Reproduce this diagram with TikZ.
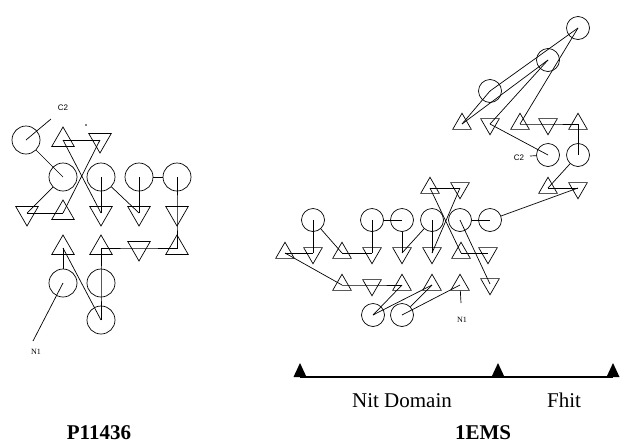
\documentclass[tikz,border=0pt]{standalone}
\usepackage{fontspec}
\setmainfont{Liberation Serif}
\newfontfamily\tagfont{Liberation Sans}
\usetikzlibrary{shapes.geometric}

\begin{document}
\begin{tikzpicture}[x=1pt,y=-1pt,line width=0.7pt,
        helix/.style={circle,draw,inner sep=0pt,minimum size=#1},
        helix/.default=28,
        upstrand/.style={regular polygon,regular polygon sides=3,draw,inner sep=0pt,minimum size=#1},
        upstrand/.default=26,
        downstrand/.style={upstrand=#1,shape border rotate=180},
        downstrand/.default=26,
        tag/.style={font=\tagfont\fontsize{8}{9}\selectfont,inner sep=0pt},
        termtext/.style={font=\fontsize{8}{9}\selectfont,inner sep=0pt},
        domaintext/.style={font=\fontsize{21}{24}\selectfont,anchor=base,inner sep=0pt},
        heading/.style={font=\bfseries\fontsize{21}{24}\selectfont,anchor=base,inner sep=0pt}]
    \useasboundingbox (0,0) rectangle (621,445);

    % P11436
    \node[helix] (pc0) at (26,140) {};
    \node[upstrand] (pu1) at (63,140) {};
    \node[downstrand] (pd1) at (100,140) {};
    \node[helix] (pc1) at (63,177) {};
    \node[helix] (pc2) at (101,177) {};
    \node[helix] (pc3) at (139,177) {};
    \node[helix] (pc4) at (177,177) {};
    \node[downstrand] (pd2) at (27,213) {};
    \node[upstrand] (pu2) at (63,213) {};
    \node[downstrand] (pd3) at (101,213) {};
    \node[downstrand] (pd4) at (139,213) {};
    \node[downstrand] (pd5) at (177,213) {};
    \node[upstrand] (pu3) at (63,248) {};
    \node[upstrand] (pu4) at (101,248) {};
    \node[downstrand] (pd6) at (139,248) {};
    \node[upstrand] (pu5) at (177,248) {};
    \node[helix] (pc5) at (63,283) {};
    \node[helix] (pc6) at (101,283) {};
    \node[helix] (pc7) at (101,320) {};
    \node[tag] (pC2) at (63,108) {C2};
    \coordinate (pC2end) at (51,119);
    \node[termtext] (pN1) at (36,352) {N1};
    \coordinate (pN1end) at (33,341);
    \fill (86,125) circle (0.8);

    \draw (pc0.center) -- (pC2end);
    \draw (pc0) -- (pc1.center);
    \draw (pu1.center) -- (pd1.center);
    \draw (pu1.center) -- (pd3.center);
    \draw (pu2.center) -- (pd1.center);
    \draw (pc1) -- (pd2.center);
    \draw (pd2.center) -- (pu2.center);
    \draw (pc2.center) -- (pd3.center);
    \draw (pc2) -- (pd4.center);
    \draw (pc3.center) -- (pd4.center);
    \draw (pc3) -- (pc4);
    \draw (pc4.center) -- (pd5.center) -- (pu5.center) -- (pd6.center) -- (pu4.center) -- (pc6.center) -- (pc7.center);
    \draw (pu3.center) -- (pc5);
    \draw (pu3.center) -- (pc7.center);
    \draw (pc5.center) -- (pN1end);

    % 1EMS, Nit domain
    \node[helix=23] (ec1) at (313,220) {};
    \node[helix=23] (ec2) at (372,220) {};
    \node[helix=23] (ec3) at (402,220) {};
    \node[helix=23] (ec4) at (432,220) {};
    \node[helix=23] (ec5) at (460,220) {};
    \node[helix=23] (ec6) at (490,220) {};
    \node[upstrand=21.5] (eu1) at (430,188) {};
    \node[downstrand=21.5] (ed1) at (460,188) {};
    \node[upstrand=21.5] (eu2) at (285,253) {};
    \node[downstrand=21.5] (ed2) at (313,253) {};
    \node[upstrand=21.5] (eu3) at (342,253) {};
    \node[downstrand=21.5] (ed3) at (372,253) {};
    \node[downstrand=21.5] (ed4) at (402,253) {};
    \node[downstrand=21.5] (ed5) at (432,253) {};
    \node[upstrand=21.5] (eu4) at (461,253) {};
    \node[downstrand=21.5] (ed6) at (488,253) {};
    \node[upstrand=21.5] (eu5) at (342,285) {};
    \node[downstrand=21.5] (ed7) at (372,285) {};
    \node[upstrand=21.5] (eu6) at (402,285) {};
    \node[upstrand=21.5] (eu7) at (432,285) {};
    \node[upstrand=21.5] (eu8) at (460,285) {};
    \node[downstrand=21.5] (ed8) at (490,284) {};
    \node[helix=23] (ec7) at (373,315) {};
    \node[helix=23] (ec8) at (402,315) {};
    \node[termtext] (eN1) at (462,320) {N1};
    \coordinate (eN1end) at (461,303);

    % 1EMS, Fhit
    \node[helix=23] (fc1) at (578,28) {};
    \node[helix=23] (fc2) at (548,60) {};
    \node[helix=23] (fc3) at (490,91) {};
    \node[upstrand=21.5] (fu1) at (462,124) {};
    \node[downstrand=21.5] (fd1) at (490,124) {};
    \node[upstrand=21.5] (fu2) at (520,124) {};
    \node[downstrand=21.5] (fd2) at (548,124) {};
    \node[upstrand=21.5] (fu3) at (578,124) {};
    \node[helix=23] (fc4) at (548,155) {};
    \node[helix=23] (fc5) at (578,155) {};
    \node[upstrand=21.5] (fu4) at (548,188) {};
    \node[downstrand=21.5] (fd3) at (578,188) {};
    \node[tag] (fC2) at (519,158) {C2};
    \coordinate (fC2end) at (530,156);

    \draw (ec1.center) -- (ed2.center);
    \draw (eu2.center) -- (ed2.center);
    \draw (ec1) -- (eu3.center);
    \draw (eu3.center) -- (ed3.center);
    \draw (ec2.center) -- (ed3.center);
    \draw (ec2) -- (ec3.center);
    \draw (ec3) -- (ed4.center);
    \draw (ec4) -- (ed4.center);
    \draw (ec4.center) -- (ed5.center);
    \draw (eu1.center) -- (ed1.center);
    \draw (eu1.center) -- (eu4.center);
    \draw (ed1.center) -- (ed5.center);
    \draw (ec5) -- (ec6.center);
    \draw (ec5.center) -- (ed8.center);
    \draw (eu4.center) -- (ed6.center);
    \draw (ec6) -- (fd3.center);
    \draw (eu2.center) -- (eu5.center);
    \draw (eu5.center) -- (ed7.center) -- (eu6.center);
    \draw (ec7.center) -- (eu6.center);
    \draw (ec7.center) -- (eu7.center);
    \draw (ec8) -- (eu7.center);
    \draw (ec8.center) -- (eu8.center);
    \draw (eu8) -- (eN1end);

    \draw (fu1.center) -- (fc3.center);
    \draw (fu1.center) -- (fc2.center);
    \draw (fc3.center) -- (fc1.center);
    \draw (fd1.center) -- (fc2.center);
    \draw (fu2.center) -- (fc1.center);
    \draw (fu2.center) -- (fd2.center) -- (fu3.center);
    \draw (fu3.center) -- (fc5.center);
    \draw (fd1.center) -- (fc4.center);
    \draw (fc5) -- (fu4.center);
    \draw (fu4.center) -- (fd3.center);
    \draw (fC2end) -- (fc4);

    % domain bar
    \coordinate (bar1) at (300,377);
    \coordinate (bar2) at (498,377);
    \coordinate (bar3) at (613,377);
    \draw[line width=1.5pt] (bar1) -- (bar3);
    \fill (bar1) ++(-6.5,0) -- ++(13,0) -- ++(-6.5,-14) -- cycle;
    \fill (bar2) ++(-6.5,0) -- ++(13,0) -- ++(-6.5,-14) -- cycle;
    \fill (bar3) ++(-6.5,0) -- ++(13,0) -- ++(-6.5,-14) -- cycle;
    \node[domaintext] (nit) at (402,407) {Nit Domain};
    \node[domaintext] (fhit) at (564,407) {Fhit};

    \node[heading] (left) at (99,439) {P11436};
    \node[heading] (right) at (483,439) {1EMS};
\end{tikzpicture}
\end{document}
